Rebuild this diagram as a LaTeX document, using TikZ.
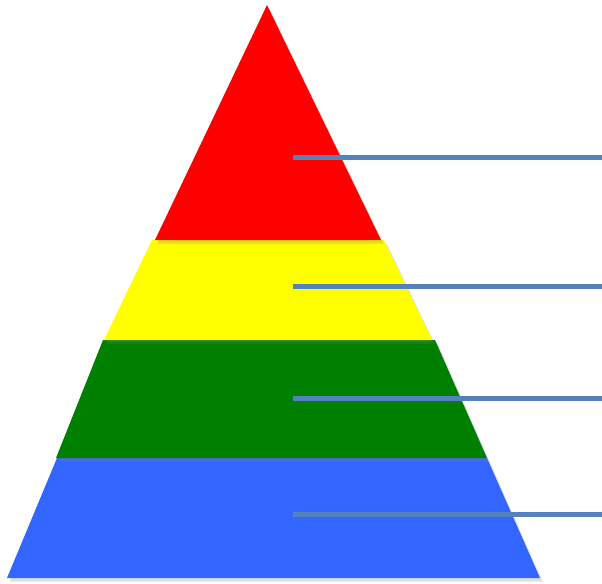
\documentclass[tikz,border=0pt]{standalone}
\usepackage{tikz}
\usetikzlibrary{shadows,calc}
\definecolor{bandred}{RGB}{255,0,0}
\definecolor{bandyellow}{RGB}{255,255,0}
\definecolor{bandgreen}{RGB}{0,128,0}
\definecolor{bandblue}{RGB}{51,102,255}
\definecolor{leader}{RGB}{84,130,190}

\begin{document}
\begin{tikzpicture}[x=0.02cm, y=-0.02cm,
		band/.style={draw=none, drop shadow={opacity=0.25, shadow xshift=1.5pt, shadow yshift=-2pt}},
		leaderline/.style={draw=leader, line width=0.1cm, drop shadow={opacity=0.3, shadow xshift=1pt, shadow yshift=-2.5pt}}]
		\useasboundingbox (0,0) rectangle (602,583);
		% blue band
		\fill[bandblue, band] (57,458) -- (487,458) -- (540,578) -- (7,578) -- cycle;
		% green band
		\fill[bandgreen, band] (103,340) -- (435,340) -- (487,458) -- (56,458) -- cycle;
		% yellow band
		\fill[bandyellow, band] (152,240) -- (384,240) -- (432,340) -- (104,340) -- cycle;
		% red band
		\fill[bandred, band] (267,5) -- (381,240) -- (155,240) -- cycle;
		% leader lines
		\foreach \i/\y in {1/157, 2/286, 3/398, 4/514} {
			\coordinate (start\i) at (293,\y);
			\coordinate (end\i) at (602,\y);
			\path[leaderline] (start\i) -- (end\i);
		}
	\end{tikzpicture}
\end{document}
